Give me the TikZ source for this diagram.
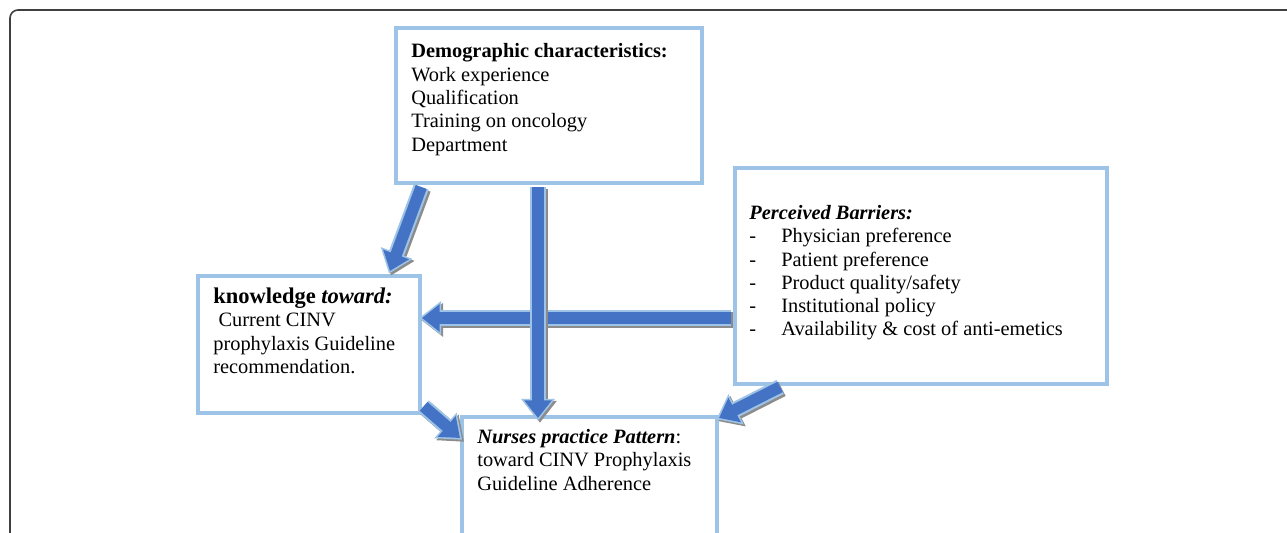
\documentclass[tikz,border=0pt]{standalone}
\usepackage{fontspec}
\setmainfont{Liberation Serif}
\usetikzlibrary{positioning,arrows.meta}
\definecolor{arrowblue}{HTML}{4472C4}
\definecolor{edgeblue}{HTML}{9DC3E6}
\definecolor{shadowgray}{HTML}{8C8C8C}

\begin{document}
\begin{tikzpicture}[
        box/.style={draw=edgeblue, line width=2.3pt, fill=white, inner sep=0pt},
        txt/.style={font=\fontsize{11.6}{13.26}\selectfont, align=left, inner sep=0pt},
        frame/.style={draw=black!75, line width=0.9pt, rounded corners=0.16cm},
        bigarrow/.style={draw=arrowblue, line width=6.6pt, shorten <=1.2pt, -{Triangle[length=10pt, width=15pt]},
            preaction={draw=shadowgray, line width=9pt, shorten >=-1.6pt, -{Triangle[length=12.5pt, width=18.5pt]}, transform canvas={shift={(1.1pt,-1.1pt)}}},
            preaction={draw=edgeblue, line width=9pt, shorten >=-1.6pt, -{Triangle[length=12.5pt, width=18.5pt]}}}
    ]
        \useasboundingbox (0,0) rectangle (25.74,-10.66);
        \clip (0,0) rectangle (25.74,-10.66);
        \draw[frame] (0.2,-0.2) rectangle (26.2,-11.2);

        % Boxes
        \node[box, minimum width=6.12cm, minimum height=3.10cm] (demo) at (10.98,-2.11) {};
        \node[box, minimum width=4.44cm, minimum height=2.74cm] (know) at (6.18,-6.89) {};
        \node[box, minimum width=7.44cm, minimum height=4.32cm] (barr) at (18.42,-5.52) {};
        \node[box, minimum width=5.10cm, minimum height=3.20cm] (nurse) at (11.79,-9.94) {};

        % Texts
        \node[txt, below right=0.35cm and 0.34cm of demo.north west] (demotxt) {\textbf{Demographic characteristics:}\\
            Work experience\\ Qualification\\ Training on oncology\\ Department};
        \node[txt, below right=0.27cm and 0.34cm of know.north west] (knowtxt) {{\fontsize{12.8}{13.26}\selectfont\textbf{knowledge \textit{toward:}}}\\
            \hspace{3pt}Current CINV\\ prophylaxis Guideline\\ recommendation.};
        \node[txt, below right=0.78cm and 0.32cm of barr.north west] (barrtxt) {\textbf{\textit{Perceived Barriers:}}\\
            \makebox[0.64cm][l]{-}Physician preference\\
            \makebox[0.64cm][l]{-}Patient preference\\
            \makebox[0.64cm][l]{-}Product quality/safety\\
            \makebox[0.64cm][l]{-}Institutional policy\\
            \makebox[0.64cm][l]{-}Availability \& cost of anti-emetics};
        \node[txt, below right=0.28cm and 0.34cm of nurse.north west] (nursetxt) {\textbf{\textit{Nurses practice Pattern}}:\\
            toward CINV Prophylaxis\\ Guideline Adherence};

        % Arrows into knowledge
        \draw[bigarrow] ([xshift=0.56cm]demo.south west) -- ([xshift=-0.64cm, yshift=0.06cm]know.north east);
        \draw[bigarrow] ([yshift=-0.84cm]barr.west) -- ([yshift=-0.84cm]barr.west -| know.east);

        % Arrows into nurses practice
        \draw[bigarrow] ([xshift=-0.22cm]demo.south) -- ([xshift=-0.22cm, yshift=-0.06cm]demo.south |- nurse.north);
        \draw[bigarrow] ([yshift=0.2cm]know.south east) -- ([yshift=-0.46cm]nurse.north west);
        \draw[bigarrow] ([xshift=0.98cm]barr.south west) -- ([yshift=-0.06cm]nurse.north east);
    \end{tikzpicture}
\end{document}
